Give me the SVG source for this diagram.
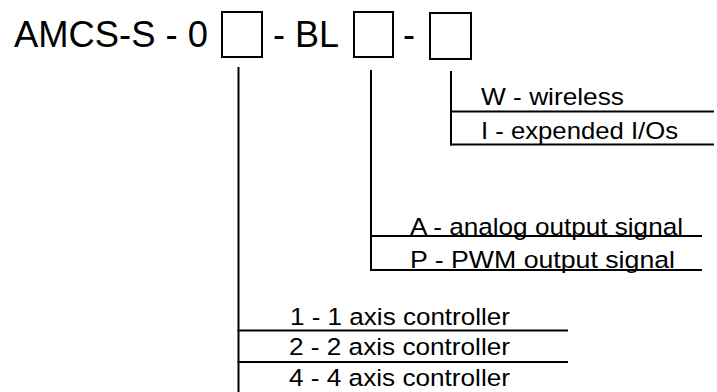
<svg xmlns="http://www.w3.org/2000/svg" width="717" height="392" viewBox="0 0 717 392">
<style>
text{font-family:"Liberation Sans",Arial,sans-serif;fill:#000}
.t{font-size:36px}
.o{font-size:24.5px}
.box{fill:#fff;stroke:#000;stroke-width:2}
.ln{stroke:#000;stroke-width:2;fill:none}
</style>
<rect width="717" height="392" fill="#fff"/>
<g id="code">
<text class="t" x="14" y="47" textLength="194" lengthAdjust="spacingAndGlyphs">AMCS-S - 0</text>
<text class="t" x="273" y="47">- BL</text>
<text class="t" x="403" y="47">-</text>
</g>
<g id="box1"><rect class="box" x="222" y="12" width="40" height="45"/></g>
<g id="box2"><rect class="box" x="354" y="12" width="39" height="45"/></g>
<g id="box3"><rect class="box" x="430" y="13" width="41" height="46"/></g>
<g id="connectors">
<line class="ln" x1="238.5" y1="67" x2="238.5" y2="392"/>
<line class="ln" x1="371" y1="70" x2="371" y2="271"/>
<line class="ln" x1="451" y1="71" x2="451" y2="145.5"/>
<line class="ln" x1="450" y1="111.5" x2="714" y2="111.5"/>
<line class="ln" x1="450" y1="144.5" x2="714" y2="144.5"/>
<line class="ln" x1="370" y1="236" x2="702" y2="236"/>
<line class="ln" x1="370" y1="270" x2="702" y2="270"/>
<line class="ln" x1="237.5" y1="330.5" x2="568" y2="330.5"/>
<line class="ln" x1="237.5" y1="362" x2="568" y2="362"/>
</g>
<g id="opt3">
<text class="o" x="481" y="105" textLength="143" lengthAdjust="spacingAndGlyphs">W - wireless</text>
<text class="o" x="481" y="139" textLength="197" lengthAdjust="spacingAndGlyphs">I - expended I/Os</text>
</g>
<g id="opt2">
<text class="o" x="410" y="235" textLength="273" lengthAdjust="spacingAndGlyphs">A - analog output signal</text>
<text class="o" x="410" y="268" textLength="265" lengthAdjust="spacingAndGlyphs">P - PWM output signal</text>
</g>
<g id="opt1">
<text class="o" x="290" y="325" textLength="220" lengthAdjust="spacingAndGlyphs">1 - 1 axis controller</text>
<text class="o" x="289" y="355" textLength="221" lengthAdjust="spacingAndGlyphs">2 - 2 axis controller</text>
<text class="o" x="289" y="386" textLength="221" lengthAdjust="spacingAndGlyphs">4 - 4 axis controller</text>
</g>
</svg>
